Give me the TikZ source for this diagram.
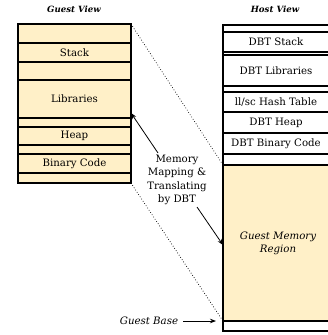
\documentclass[tikz,border=0pt]{standalone}
\usepackage{fontspec}
\setmainfont{DejaVu Serif}
\usetikzlibrary{arrows.meta}
\definecolor{cream}{HTML}{FFF0C8}
\begin{document}
\begin{tikzpicture}[x=1pt,y=-1pt,
  seg/.style={draw=black,line width=1.1pt},
  outer/.style={draw=black,line width=2.4pt},
  lbl/.style={font=\fontsize{10.2}{12}\selectfont,inner sep=0pt},
  ttl/.style={font=\fontsize{8.6}{10}\selectfont\bfseries\itshape,inner sep=0pt},
  arr/.style={-{Stealth[length=6pt,width=4.5pt]},line width=0.8pt},
  dots/.style={dotted,line width=0.7pt}]
\useasboundingbox (0,0) rectangle (328,335);
% titles
\node[ttl] (gt) at (74,9) {Guest View};
\node[ttl] (ht) at (275,9) {Host View};
% guest column
\foreach \a/\b in {24/43,43/62,62/80,80/118,118/127,127/145,145/154,154/173,173/183}
  \draw[seg,fill=cream] (18,\a) rectangle (131,\b);
\draw[outer] (18,24) rectangle (131,183);
\coordinate (gtr) at (131,24);
\coordinate (gbr) at (131,183);
\node[lbl] (gstack) at (74.5,52.5) {Stack};
\node[lbl] (glib) at (74.5,99) {Libraries};
\node[lbl] (gheap) at (74.5,136) {Heap};
\node[lbl] (gbin) at (74.5,163.5) {Binary Code};
\coordinate (glibr) at (131,113);
% host column
\foreach \a/\b in {25/32,32/52,52/55,55/86,86/92,92/112,112/133,133/154,154/165,321/331}
  \draw[seg,fill=white] (223,\a) rectangle (330,\b);
\draw[outer,fill=cream] (223,165) rectangle (330,321);
\draw[outer] (223,25) rectangle (330,331);
\node[lbl] (hstack) at (276,42) {DBT Stack};
\node[lbl] (hlib) at (276,70.5) {DBT Libraries};
\node[lbl] (hhash) at (276,102) {ll/sc Hash Table};
\node[lbl] (hheap) at (276,122.5) {DBT Heap};
\node[lbl] (hbin) at (276,143.5) {DBT Binary Code};
\node[lbl,font=\fontsize{10.2}{13}\selectfont\itshape,align=center] (hgm) at (278,243.5) {Guest Memory\\Region};
\coordinate (hgt) at (223,165);
\coordinate (hgb) at (223,321);
\coordinate (hgl) at (223,245);
% mapping label
\node[lbl,align=center,font=\fontsize{10.2}{13.3}\selectfont] (map) at (177,180) {Memory\\Mapping \&\\Translating\\by DBT};
\draw[arr] (158,153) -- (glibr);
\draw[arr] (197,207) -- (hgl);
% dotted lines
\draw[dots] (gtr) -- (hgt);
\draw[dots] (gbr) -- (hgb);
% guest base
\node[lbl,font=\fontsize{10.2}{12}\selectfont\itshape] (gbase) at (149,321) {Guest Base};
\draw[arr] (gbase.east) ++(5,0) coordinate (gbs) (gbs) -- (216,321);
\end{tikzpicture}
\end{document}
